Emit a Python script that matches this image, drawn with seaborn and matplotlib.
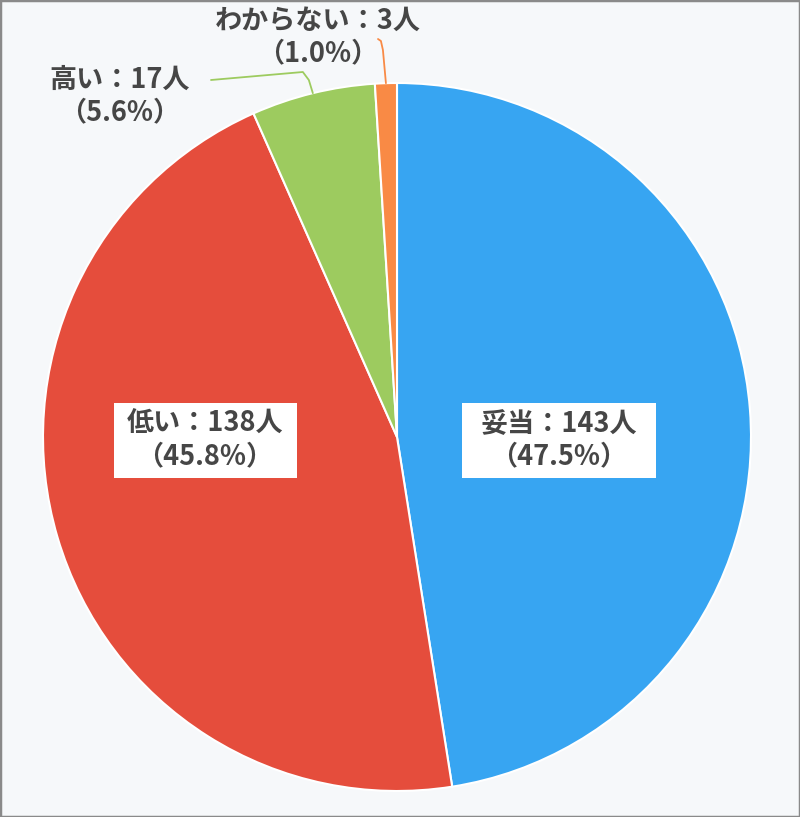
import numpy as np
import matplotlib
matplotlib.use("Agg")
import matplotlib.pyplot as plt
import seaborn as sns
from matplotlib.patches import Rectangle

sns.set_theme(style="white")
plt.rcParams['font.family'] = ['Noto Sans CJK JP', 'DejaVu Sans']

categories = ["妥当", "低い", "高い", "わからない"]
counts = [143, 138, 17, 3]
percents = ["47.5%", "45.8%", "5.6%", "1.0%"]
colors = ["#37A5F2", "#E54D3C", "#9DCB5F", "#F98A45"]

W, H = 800, 817
bg = "#F6F8FA"
fig = plt.figure(figsize=(W / 100, H / 100), dpi=100, facecolor=bg)
ax = fig.add_axes([0, 0, 1, 1])
ax.set_facecolor(bg)

cx, cy, R = 397, H - 437, 354
wedges, _ = ax.pie(counts, colors=colors, startangle=90, counterclock=False,
                   center=(cx, cy), radius=R,
                   wedgeprops=dict(edgecolor="white", linewidth=1.5))
ax.set_xlim(0, W)
ax.set_ylim(0, H)
ax.set_aspect("equal")
ax.axis("off")

txtc = "#464646"
fs = 19.5
labels = [f"{c}：{n}人\n（{p}）" for c, n, p in zip(categories, counts, percents)]

# inside labels with white boxes
inside_pos = [(559, H - 440), (205, H - 440)]
box_w = [194, 183]
for i in range(2):
    x, y = inside_pos[i]
    ax.add_patch(Rectangle((x - box_w[i] / 2, y - 37.5), box_w[i], 75,
                           facecolor="white", edgecolor="none", zorder=3))
    ax.text(x, y, labels[i], ha="center", va="center",
            fontsize=fs, fontweight="bold", color=txtc, linespacing=1.22, zorder=4)

# outside labels with leader lines
total = sum(counts)
cum = np.cumsum([0] + counts)
def mid_anchor(i):
    ang = np.deg2rad(90 - 360 * (cum[i] + counts[i] / 2) / total)
    return cx + R * np.cos(ang), cy + R * np.sin(ang)

# 高い
ax.text(120, H - 96, labels[2], ha="center", va="center", fontsize=fs,
        fontweight="bold", color=txtc, linespacing=1.22)
ax0, ay0 = mid_anchor(2)
ax.plot([ax0, ax0 - 4, ax0 - 10, 211], [ay0, H - 80, H - 72, H - 80],
        color=colors[2], lw=1.3, solid_capstyle="round")

# わからない
ax.text(318, H - 37, labels[3], ha="center", va="center", fontsize=fs,
        fontweight="bold", color=txtc, linespacing=1.22)
bx0, by0 = mid_anchor(3)
ax.plot([bx0, bx0 - 3, bx0 - 5, 378], [by0, H - 50, H - 41, H - 39],
        color=colors[3], lw=1.3, solid_capstyle="round")

fig.patches.append(Rectangle((0, 0), 1, 1, transform=fig.transFigure,
                             fill=False, edgecolor="#8a8a8a", linewidth=2.5))

fig.savefig("out.png", dpi=100, facecolor=bg)
